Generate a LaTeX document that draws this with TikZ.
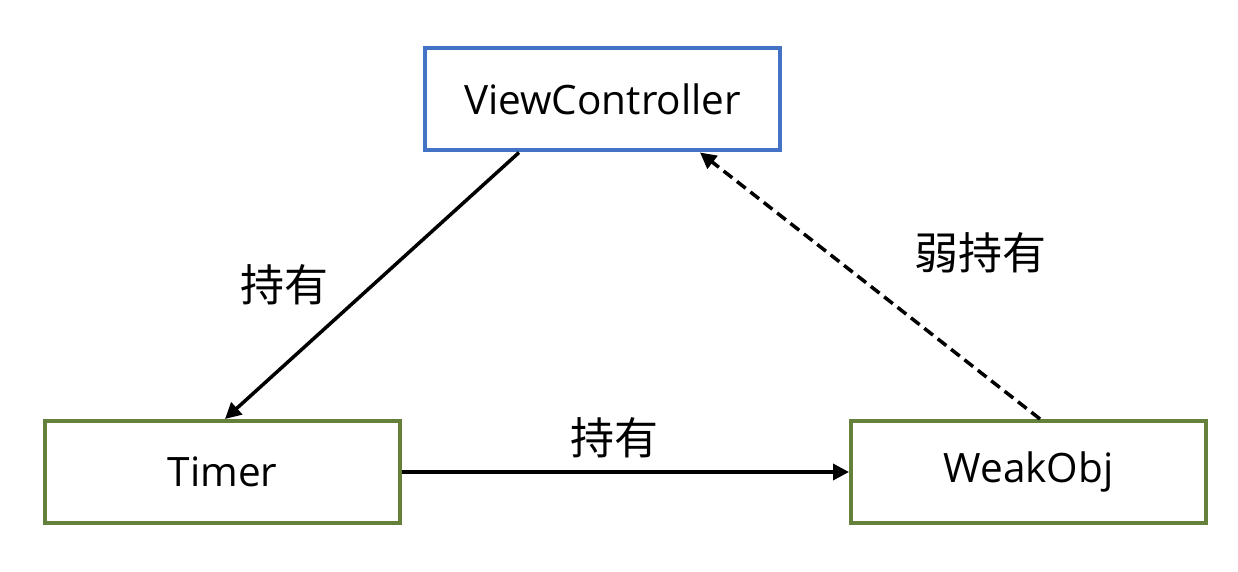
\documentclass[tikz,border=0pt]{standalone}
\usepackage{fontspec}
\setmainfont{Open Sans}
\newfontfamily\cjk{Noto Sans CJK SC}
\usetikzlibrary{arrows.meta}
\definecolor{vcblue}{RGB}{68,114,196}
\definecolor{boxgreen}{RGB}{100,128,58}
\begin{document}
\begin{tikzpicture}[x=1pt,y=-1pt,
  box/.style={draw,line width=4pt,minimum width=355pt,minimum height=102pt,inner sep=0pt,font=\fontsize{40.5}{44}\selectfont},
  conn/.style={line width=3.5pt,-{Triangle[length=16pt,width=16pt]}},
  lbl/.style={font=\cjk\fontsize{44}{48}\selectfont,inner sep=0pt}]
\useasboundingbox (0,0) rectangle (1238,572);
\node[box,draw=vcblue] (vc) at (602.5,99.5) {\raisebox{-3pt}{ViewController}};
\node[box,draw=boxgreen] (timer) at (222.5,472) {\raisebox{-3pt}{Timer}};
\node[box,draw=boxgreen] (weak) at (1028.5,472) {\raisebox{-3pt}{WeakObj}};
\draw[conn] ([xshift=-83.5pt]vc.south) -- ([xshift=2.5pt]timer.north);
\draw[conn,dash pattern=on 11pt off 6pt] ([xshift=11.5pt]weak.north) -- ([xshift=97.5pt]vc.south);
\draw[conn] (timer.east) -- (weak.west);
\node[lbl] (l1) at (284,285) {持有};
\node[lbl] (l2) at (980,253) {弱持有};
\node[lbl] (l3) at (614,438) {持有};
\end{tikzpicture}
\end{document}
